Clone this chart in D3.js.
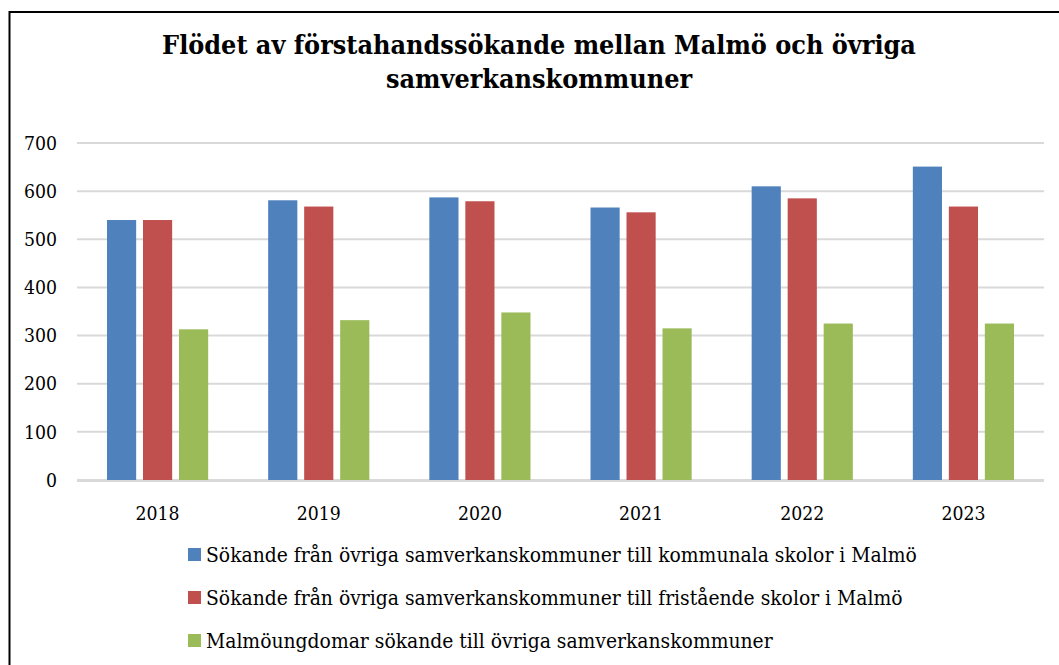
<!DOCTYPE html>
<html>
<head>
<meta charset="utf-8">
<script src="https://cdn.jsdelivr.net/npm/d3@7"></script>
<style>
  body { margin: 0; background: #fff; }
  svg { display: block; }
</style>
</head>
<body>
<svg id="chart" width="1059" height="665"></svg>
<script>
const years = ["2018", "2019", "2020", "2021", "2022", "2023"];
const seriesNames = [
  "Sökande från övriga samverkanskommuner till kommunala skolor i Malmö",
  "Sökande från övriga samverkanskommuner till fristående skolor i Malmö",
  "Malmöungdomar sökande till övriga samverkanskommuner"
];
const kommunala = [540, 581, 587, 566, 610, 651];
const fristaende = [540, 568, 579, 556, 585, 568];
const malmoungdomar = [313, 332, 348, 315, 325, 325];
const yTicks = [0, 100, 200, 300, 400, 500, 600, 700];
const colors = ["#4F81BD", "#C0504D", "#9BBB59"];

const serif = "'DejaVu Serif Condensed', 'DejaVu Serif', serif";
const seriesValues = [kommunala, fristaende, malmoungdomar];
const data = years.map((y, i) => ({
  year: y,
  values: seriesValues.map((s, j) => ({ key: j, value: s[i] }))
}));

// scale a text's font size so that it spans the wanted width
function fitWidth(sel, width) {
  const node = sel.node();
  const size = +sel.attr("font-size");
  const w = node.getComputedTextLength();
  return size * width / w;
}

const svg = d3.select("#chart");

// outer frame (right and bottom edges fall outside the picture)
svg.append("rect")
  .attr("x", 9.5).attr("y", 12)
  .attr("width", 1100).attr("height", 700)
  .attr("fill", "none")
  .attr("stroke", "#000")
  .attr("stroke-width", 2);

// title
const title = svg.append("text")
  .attr("text-anchor", "middle")
  .attr("font-family", serif)
  .attr("font-weight", "bold")
  .attr("font-size", 28)
  .attr("fill", "#000");
const t1 = title.append("tspan").attr("x", 539).attr("y", 54)
  .text("Flödet av förstahandssökande mellan Malmö och övriga");
title.append("tspan").attr("x", 539).attr("y", 88)
  .text("samverkanskommuner");
const probe = svg.append("text").attr("font-family", serif).attr("font-weight", "bold")
  .attr("font-size", 28).text(t1.text());
title.attr("font-size", fitWidth(probe, 754));
probe.remove();

const plot = { left: 77, right: 1044, top: 143, bottom: 480 };

const x0 = d3.scaleBand()
  .domain(years)
  .range([plot.left, plot.right]);

const x1 = d3.scaleBand()
  .domain([0, 1, 2])
  .range([30, x0.bandwidth() - 30])
  .paddingInner(0.19);

const y = d3.scaleLinear()
  .domain([0, 700])
  .range([plot.bottom, plot.top]);

// gridlines
svg.append("g")
  .selectAll("line")
  .data(yTicks)
  .join("line")
  .attr("x1", plot.left).attr("x2", plot.right)
  .attr("y1", d => y(d)).attr("y2", d => y(d))
  .attr("stroke", "#D9D9D9")
  .attr("stroke-width", 2);

// tick label size from the width of "2018" (44px in the original)
const tprobe = svg.append("text").attr("font-family", serif)
  .attr("font-size", 20).text("2018");
const tickSize = fitWidth(tprobe, 44);
tprobe.remove();

// y axis labels
const yAxis = svg.append("g")
  .attr("transform", `translate(${plot.left - 20},0)`)
  .call(d3.axisLeft(y).tickValues(yTicks).tickSize(0).tickPadding(0));
yAxis.select(".domain").remove();
yAxis.selectAll("text")
  .attr("font-family", serif)
  .attr("font-size", tickSize)
  .attr("fill", "#000");

// bars
svg.append("g")
  .selectAll("g")
  .data(data)
  .join("g")
  .attr("transform", d => `translate(${x0(d.year)},0)`)
  .selectAll("rect")
  .data(d => d.values)
  .join("rect")
  .attr("x", d => x1(d.key))
  .attr("width", x1.bandwidth())
  .attr("y", d => y(d.value))
  .attr("height", d => y(0) - y(d.value))
  .attr("fill", d => colors[d.key]);

// baseline on top of bars
svg.append("line")
  .attr("x1", plot.left).attr("x2", plot.right)
  .attr("y1", y(0) + 1).attr("y2", y(0) + 1)
  .attr("stroke", "#D9D9D9")
  .attr("stroke-width", 2);

// x axis labels
const xAxis = svg.append("g")
  .attr("transform", `translate(0,${plot.bottom + 26})`)
  .call(d3.axisBottom(x0).tickSize(0).tickPadding(0));
xAxis.select(".domain").remove();
xAxis.selectAll("text")
  .attr("font-family", serif)
  .attr("font-size", tickSize)
  .attr("fill", "#000");

// legend
const legend = svg.append("g")
  .selectAll("g")
  .data(seriesNames)
  .join("g")
  .attr("transform", (d, i) => `translate(188,${548 + i * 43})`);
legend.append("rect")
  .attr("width", 13).attr("height", 13)
  .attr("fill", (d, i) => colors[i]);
const legendText = legend.append("text")
  .attr("x", 18).attr("y", 14)
  .attr("font-family", serif)
  .attr("font-size", 20)
  .attr("fill", "#000")
  .text(d => d);
legendText.attr("font-size", fitWidth(d3.select(legendText.node()), 711));
</script>
</body>
</html>
